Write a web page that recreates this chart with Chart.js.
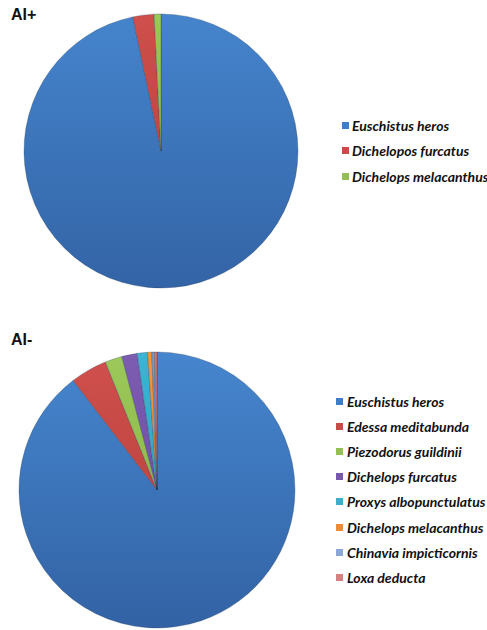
<!DOCTYPE html>
<html>
<head>
<meta charset="utf-8">
<script src="https://cdn.jsdelivr.net/npm/chart.js@4/dist/chart.umd.min.js"></script>
<style>
  html, body { margin: 0; padding: 0; background: #fff; }
  body { width: 487px; height: 630px; position: relative; overflow: hidden; font-family: "Liberation Sans", Arial, sans-serif; }
  .title { position: absolute; font: bold 16px "Liberation Sans", Arial, sans-serif; color: #111; }
  .wrap { position: absolute; }
  .legend { position: absolute; font: italic 700 14px Lato, "Open Sans", sans-serif; color: #111; }
  .legend .row { position: absolute; left: 0; white-space: nowrap; height: 17px; line-height: 17px; }
  .legend .box { position: absolute; left: 0; top: 5px; width: 7px; height: 7px; }
  .legend .txt { position: absolute; top: 0; }
</style>
</head>
<body>
<div class="title" style="left:11px; top:6px;">AI+</div>
<div class="title" style="left:11px; top:331px;">AI-</div>

<div class="wrap" style="left:0; top:0; width:322px; height:302px;"><canvas id="pieTop"></canvas></div>
<div class="wrap" style="left:0; top:350px; width:314px; height:280px;"><canvas id="pieBottom"></canvas></div>

<div class="legend" id="legTop" style="left:342px; top:117px;"></div>
<div class="legend" id="legBottom" style="left:336px; top:393px;"></div>

<script>
// Species share of stink bugs, with (AI+) and without (AI-) the treatment
const topLabels = ['Euschistus heros', 'Dichelopos furcatus', 'Dichelops melacanthus'];
const topValues = [96.7, 2.5, 0.8];

const bottomLabels = ['Euschistus heros', 'Edessa meditabunda', 'Piezodorus guildinii', 'Dichelops furcatus',
  'Proxys albopunctulatus', 'Dichelops melacanthus', 'Chinavia impicticornis', 'Loxa deducta'];
const bottomValues = [89.6, 4.3, 2.0, 1.8, 1.2, 0.5, 0.3, 0.3];

// slice fill: [light top, dark bottom], legend swatch colour
const palette = [
  { hi: '#4686CE', lo: '#3262A4', sw: '#3E7DC8' },
  { hi: '#D0504C', lo: '#B03B38', sw: '#C94A47' },
  { hi: '#9CC959', lo: '#7FAE40', sw: '#94BF55' },
  { hi: '#7C5DB2', lo: '#644498', sw: '#7858A9' },
  { hi: '#3DB4D4', lo: '#2896B5', sw: '#3BAECB' },
  { hi: '#F6943A', lo: '#E07D22', sw: '#EE8B35' },
  { hi: '#7A9BD2', lo: '#5D7DB6', sw: '#8AA7D8' },
  { hi: '#D27673', lo: '#B85D5A', sw: '#D4817F' }
];

function sliceFill(ctx) {
  const chart = ctx.chart;
  const area = chart.chartArea;
  const p = palette[ctx.dataIndex % palette.length];
  if (!area) return p.sw;
  const g = chart.ctx.createLinearGradient(0, area.top, 0, area.bottom);
  g.addColorStop(0, p.hi);
  g.addColorStop(1, p.lo);
  return g;
}

function makePie(id, labels, values, radius) {
  return new Chart(document.getElementById(id), {
    type: 'pie',
    data: {
      labels: labels,
      datasets: [{
        data: values,
        backgroundColor: sliceFill,
        borderColor: 'rgba(30,50,80,0.35)',
        borderWidth: 0.8,
        radius: radius
      }]
    },
    options: {
      responsive: true,
      maintainAspectRatio: false,
      animation: false,
      layout: { padding: 0 },
      plugins: { legend: { display: false }, tooltip: { enabled: false } }
    }
  });
}

function makeLegend(id, labels, step, textLeft) {
  const el = document.getElementById(id);
  labels.forEach((lab, i) => {
    const row = document.createElement('div');
    row.className = 'row';
    row.style.top = (i * step) + 'px';
    const box = document.createElement('span');
    box.className = 'box';
    box.style.background = palette[i].sw;
    const txt = document.createElement('span');
    txt.className = 'txt';
    txt.style.left = textLeft + 'px';
    txt.textContent = lab;
    row.appendChild(box);
    row.appendChild(txt);
    el.appendChild(row);
  });
}

makePie('pieTop', topLabels, topValues, 137);
makePie('pieBottom', bottomLabels, bottomValues, 138);
makeLegend('legTop', topLabels, 25.3, 10);
makeLegend('legBottom', bottomLabels, 25.1, 11);
</script>
</body>
</html>
